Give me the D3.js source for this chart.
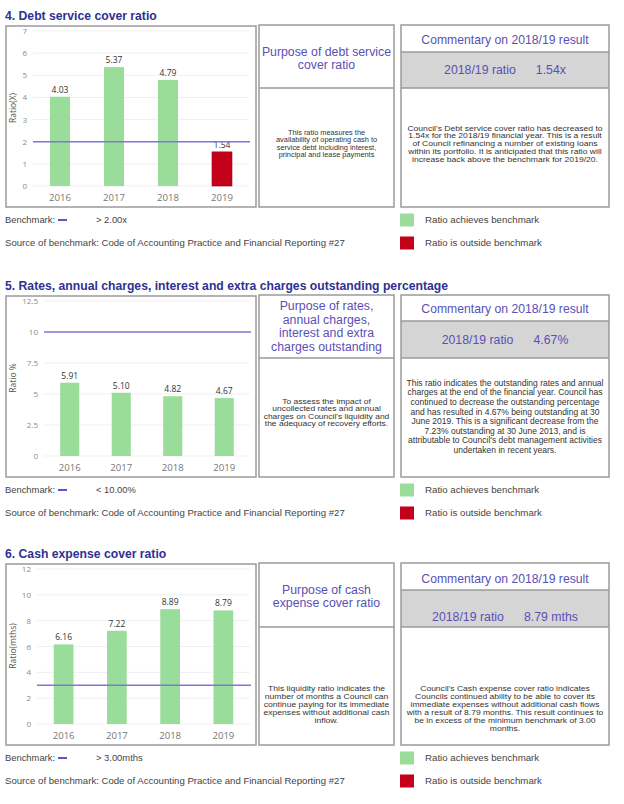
<!DOCTYPE html>
<html>
<head>
<meta charset="utf-8">
<script src="https://cdn.jsdelivr.net/npm/d3@7"></script>
<style>
html,body{margin:0;padding:0;background:#fff;}
svg{display:block;}
</style>
</head>
<body>
<script>
// ---------------- DATA ----------------
const years = ["2016", "2017", "2018", "2019"];
const debtServiceRatio = [4.03, 5.37, 4.79, 1.54];
const ratesOutstanding = [5.91, 5.10, 4.82, 4.67];
const cashExpenseCover = [6.16, 7.22, 8.89, 8.79];

const benchmarks = [2, 10, 3];
const benchmarkDirections = [">", "<", ">"];
const benchmarkLabels = ["> 2.00x", "< 10.00%", "> 3.00mths"];

const debtTicks = [0, 1, 2, 3, 4, 5, 6, 7];
const ratesTicks = [0, 2.5, 5, 7.5, 10, 12.5];
const cashTicks = [0, 2, 4, 6, 8, 10, 12];

const sectionTitles = [
  "4. Debt service cover ratio",
  "5. Rates, annual charges, interest and extra charges outstanding percentage",
  "6. Cash expense cover ratio"
];
const yAxisTitles = ["Ratio(X)", "Ratio %", "Ratio(mths)"];

const purposeTitles = [
  ["Purpose of debt service", "cover ratio"],
  ["Purpose of rates,", "annual charges,", "interest and extra", "charges outstanding"],
  ["Purpose of cash", "expense cover ratio"]
];
const purposeBodies = [
  ["This ratio measures the", "availability of operating cash to", "service debt including interest,", "principal and lease payments"],
  ["To assess the impact of", "uncollected rates and annual", "charges on Council's liquidity and", "the adequacy of recovery efforts."],
  ["This liquidity ratio indicates the", "number of months a Council can", "continue paying for its immediate", "expenses without additional cash", "inflow."]
];
const ratioValues = ["1.54x", "4.67%", "8.79 mths"];
const commentaryBodies = [
  ["Council's Debt service cover ratio has decreased to",
   "1.54x for the 2018/19 financial year. This is a result",
   "of Council refinancing a number of existing loans",
   "within its portfolio. It is anticipated that this ratio will",
   "increase back above the benchmark for 2019/20."],
  ["This ratio indicates the outstanding rates and annual",
   "charges at the end of the financial year. Council has",
   "continued to decrease the outstanding percentage",
   "and has resulted in 4.67% being outstanding at 30",
   "June 2019. This is a significant decrease from the",
   "7.23% outstanding at 30 June 2013, and is",
   "attributable to Council's debt management activities",
   "undertaken in recent years."],
  ["Council's Cash expense cover ratio indicates",
   "Councils continued ability to be able to cover its",
   "immediate expenses without additional cash flows",
   "with a result of 8.79 months. This result continues to",
   "be in excess of the minimum benchmark of 3.00",
   "months."]
];
const legendLabels = ["Ratio achieves benchmark", "Ratio is outside benchmark"];
const sourceText = "Source of benchmark: Code of Accounting Practice and Financial Reporting #27";

const seriesList = [debtServiceRatio, ratesOutstanding, cashExpenseCover];
const tickList = [debtTicks, ratesTicks, cashTicks];

// ---------------- STYLE / LAYOUT ----------------
const C = {
  title: "#2e3192",
  purple: "#5a50b5",
  body: "#333",
  border: "#9a9a9a",
  band: "#d5d5d5",
  green: "#9adc9a",
  red: "#c4001a",
  bench: "#7b78d8",
  grid: "#efefef",
  tick: "#8a8a8a",
  year: "#777"
};
const ARIAL = "'Liberation Sans', Arial, sans-serif";
const CHARTF = "'Open Sans', 'DejaVu Sans', sans-serif";

// body blocks: [first line centre y, line height, apparent width-size]
const layout = [
  {top: 26, h: 181, x0: 33, x1: 249, purpHead: [51.7, 12.7], purpBody: [132.7, 7.4, 7.4], commHead: 40, ratio: 70, commBody: [128.3, 7.75, 8.6], div1: 52, div2: 88},
  {top: 296, h: 181, x0: 44, x1: 250, purpHead: [306, 13.5], purpBody: [401.7, 7.5, 8.5], commHead: 308.3, ratio: 339.3, commBody: [383, 9.55, 8.5], div1: 321, div2: 358},
  {top: 564, h: 181, x0: 37, x1: 250, purpHead: [589.3, 13.3], purpBody: [688.3, 8.1, 8.6], commHead: 578.3, ratio: 616.7, commBody: [688.3, 8.1, 8.55], div1: 590, div2: 627}
];

const svg = d3.select("body").append("svg").attr("width", 624).attr("height", 804);
svg.append("rect").attr("width", 624).attr("height", 804).attr("fill", "#fff");

function multiline(g, lines, x, y0, lh, size, color) {
  g.selectAll(null).data(lines).enter().append("text")
    .attr("x", x).attr("y", (d, i) => y0 + i * lh)
    .attr("dy", "0.35em")
    .attr("text-anchor", "middle")
    .attr("font-family", ARIAL).attr("font-size", size)
    .attr("fill", color).text(d => d);
}

// tightly-set body text: glyphs kept short enough for the line spacing,
// stretched horizontally to the width seen in the reference
function bodyText(g, lines, x, spec, color) {
  const [y0, lh, wsize] = spec;
  const fs = Math.min(wsize, lh / 1.17);
  const sx = wsize / fs;
  g.selectAll(null).data(lines).enter().append("text")
    .attr("transform", (d, i) => `translate(${x},${y0 + i * lh}) scale(${sx},1)`)
    .attr("dy", "0.35em")
    .attr("text-anchor", "middle")
    .attr("font-family", ARIAL).attr("font-size", fs)
    .attr("fill", color).text(d => d);
}

layout.forEach((L, s) => {
  const g = svg.append("g");
  const top = L.top, bot = L.top + L.h;
  const values = seriesList[s];
  const ticks = tickList[s];
  const bm = benchmarks[s];
  const ok = v => benchmarkDirections[s] === ">" ? v > bm : v < bm;

  // title
  g.append("text").attr("x", 5).attr("y", top - 6)
    .attr("font-family", ARIAL).attr("font-weight", "bold").attr("font-size", 12.2)
    .attr("fill", C.title).text(sectionTitles[s]);

  // chart box
  g.append("rect").attr("x", 6).attr("y", top).attr("width", 250).attr("height", L.h)
    .attr("fill", "#fff").attr("stroke", C.border).attr("stroke-width", 1.5);

  const y = d3.scaleLinear().domain([0, d3.max(ticks)]).range([top + 160, top + 5]);
  const x = d3.scaleBand().domain(years).range([L.x0, L.x1]).paddingInner(0.63).paddingOuter(0.315);

  // grid
  g.append("g").selectAll("line").data(ticks).enter().append("line")
    .attr("x1", L.x0).attr("x2", L.x1)
    .attr("y1", d => y(d)).attr("y2", d => y(d))
    .attr("stroke", C.grid).attr("stroke-width", 1);

  // y axis
  const ya = g.append("g").attr("transform", `translate(${L.x0},0)`)
    .call(d3.axisLeft(y).tickValues(ticks).tickSize(0).tickPadding(6).tickFormat(d => String(d)));
  ya.select(".domain").remove();
  ya.selectAll("text").attr("font-family", CHARTF).attr("font-size", 8).attr("fill", C.tick);

  // x axis
  const xa = g.append("g").attr("transform", `translate(0,${top + 160})`)
    .call(d3.axisBottom(x).tickSize(0).tickPadding(8));
  xa.select(".domain").remove();
  xa.selectAll("text").attr("font-family", CHARTF).attr("font-size", 9.6).attr("fill", C.year);

  // y title
  g.append("text").attr("transform", `translate(16,${top + 82}) rotate(-90)`)
    .attr("text-anchor", "middle").attr("font-family", CHARTF).attr("font-size", 8.5)
    .attr("fill", "#555").text(yAxisTitles[s]);

  // bars
  g.append("g").selectAll("rect").data(values).enter().append("rect")
    .attr("x", (d, i) => x(years[i])).attr("width", x.bandwidth())
    .attr("y", d => y(d)).attr("height", d => y(0) - y(d))
    .attr("fill", d => ok(d) ? C.green : C.red)
    .attr("stroke", d => ok(d) ? "none" : "#9a0014").attr("stroke-width", 0.6);

  // value labels
  g.append("g").selectAll("text").data(values).enter().append("text")
    .attr("x", (d, i) => x(years[i]) + x.bandwidth() / 2).attr("y", d => y(d) - 4)
    .attr("text-anchor", "middle").attr("font-family", CHARTF).attr("font-size", 8.5)
    .attr("fill", "#333").text(d => d.toFixed(2));

  // benchmark line
  g.append("line").attr("x1", L.x0).attr("x2", L.x1 + 1).attr("y1", y(bm)).attr("y2", y(bm))
    .attr("stroke", C.bench).attr("stroke-width", 1.5);

  // purpose box
  g.append("rect").attr("x", 259).attr("y", top - 1).attr("width", 135).attr("height", L.h + 1)
    .attr("fill", "#fff").attr("stroke", C.border).attr("stroke-width", 1.5);
  g.append("line").attr("x1", 259).attr("x2", 394).attr("y1", L.div2).attr("y2", L.div2)
    .attr("stroke", C.border).attr("stroke-width", 1.5);
  multiline(g, purposeTitles[s], 326.5, L.purpHead[0], L.purpHead[1], 12.3, C.purple);
  bodyText(g, purposeBodies[s], 326.5, L.purpBody, C.body);

  // commentary box
  g.append("rect").attr("x", 401).attr("y", L.div1).attr("width", 208).attr("height", L.div2 - L.div1)
    .attr("fill", C.band);
  g.append("rect").attr("x", 401).attr("y", top - 1).attr("width", 208).attr("height", L.h + 1)
    .attr("fill", "none").attr("stroke", C.border).attr("stroke-width", 1.5);
  [L.div1, L.div2].forEach(yy => g.append("line").attr("x1", 401).attr("x2", 609)
    .attr("y1", yy).attr("y2", yy).attr("stroke", C.border).attr("stroke-width", 1.5));
  multiline(g, ["Commentary on 2018/19 result"], 505, L.commHead, 0, 12.2, C.purple);
  const rt = g.append("text").attr("x", 505).attr("y", L.ratio).attr("dy", "0.35em")
    .attr("text-anchor", "middle").attr("font-family", ARIAL).attr("font-size", 12.3)
    .attr("fill", C.purple);
  rt.append("tspan").text("2018/19 ratio");
  rt.append("tspan").attr("dx", 20).text(ratioValues[s]);
  bodyText(g, commentaryBodies[s], 505, L.commBody, C.body);

  // benchmark row and legend
  const by = bot + 13, sy = bot + 36;
  g.append("text").attr("x", 5).attr("y", by).attr("dy", "0.35em")
    .attr("font-family", ARIAL).attr("font-size", 9.4).attr("fill", "#444").text("Benchmark:");
  g.append("line").attr("x1", 58).attr("x2", 67).attr("y1", by).attr("y2", by)
    .attr("stroke", "#5a56d0").attr("stroke-width", 2);
  g.append("text").attr("x", 96).attr("y", by).attr("dy", "0.35em")
    .attr("font-family", ARIAL).attr("font-size", 9.4).attr("fill", "#444").text(benchmarkLabels[s]);
  g.append("text").attr("x", 5).attr("y", sy).attr("dy", "0.35em")
    .attr("font-family", ARIAL).attr("font-size", 9.6).attr("fill", "#444").text(sourceText);

  const legColors = [C.green, C.red];
  legendLabels.forEach((lab, i) => {
    const cy = i === 0 ? by : sy;
    g.append("rect").attr("x", 400).attr("y", cy - 6.5).attr("width", 14).attr("height", 13)
      .attr("fill", legColors[i]);
    g.append("text").attr("x", 425).attr("y", cy).attr("dy", "0.35em")
      .attr("font-family", ARIAL).attr("font-size", 9.7).attr("fill", "#444").text(lab);
  });
});
</script>
</body>
</html>
